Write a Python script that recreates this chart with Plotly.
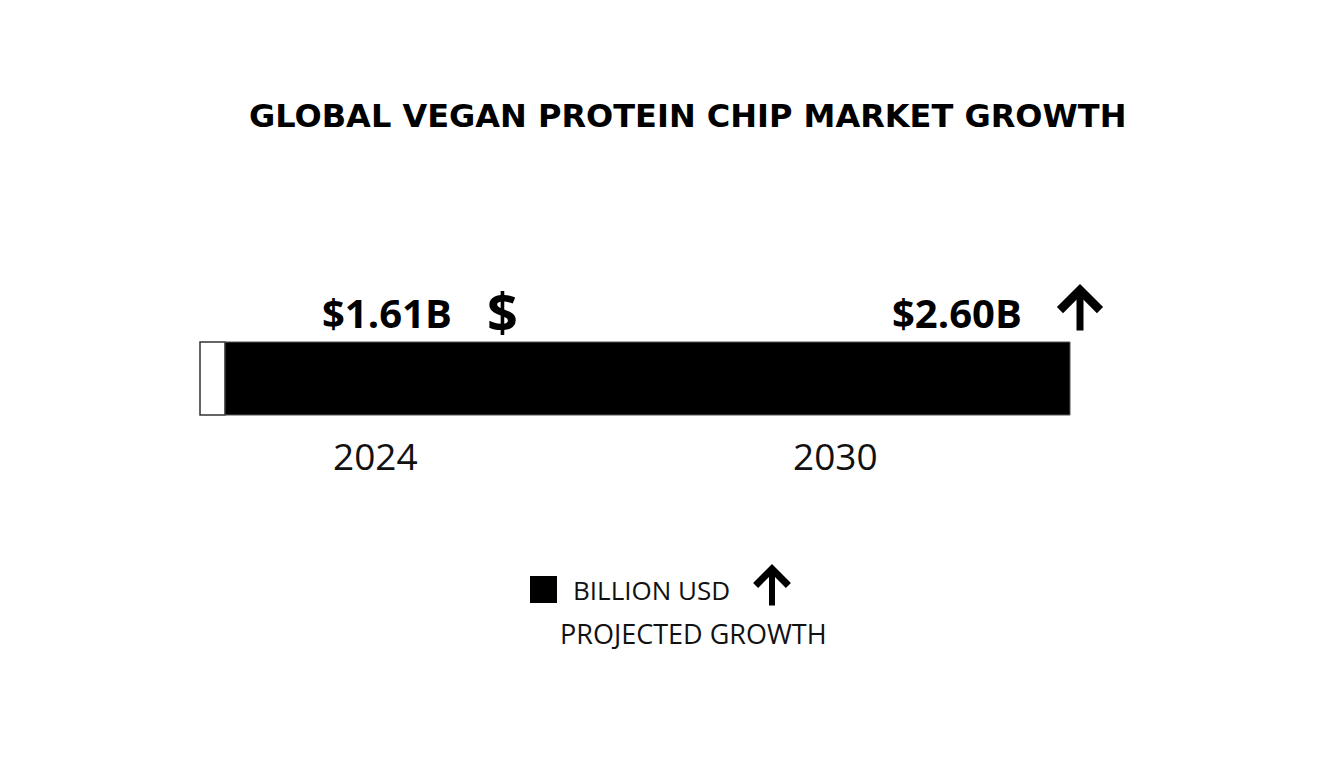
import plotly.graph_objects as go

# ---- data ----
years = [2024, 2030]
year_labels = ["2024", "2030"]
values_busd = [1.61, 2.60]
value_labels = ["$%.2fB" % v for v in values_busd]
title_text = "GLOBAL VEGAN PROTEIN CHIP MARKET GROWTH"
legend_labels = ["BILLION USD", "PROJECTED GROWTH"]

# ---- style / layout constants ----
W, H = 1344, 768
PX_PER_YEAR = 460 / 6.0
X0 = 2024 - 375 / PX_PER_YEAR
X1 = X0 + W / PX_PER_YEAR
BAR_START = 2024 - 150 / PX_PER_YEAR
BAR_END = 2024 + 695 / PX_PER_YEAR
CAP_START = 2024 - 175 / PX_PER_YEAR
FONT = "Open Sans"


def py(pixel):
    return 1 - pixel / H


fig = go.Figure()
# white end cap
fig.add_trace(go.Bar(
    orientation="h", y=[0], base=[CAP_START], x=[BAR_START - CAP_START], width=73,
    marker=dict(color="white", line=dict(color="#333333", width=1.5)),
    showlegend=False, hoverinfo="skip"))
# main black bar spanning the period
fig.add_trace(go.Bar(
    orientation="h", y=[0], base=[BAR_START], x=[BAR_END - BAR_START], width=73,
    marker=dict(color="black", line=dict(color="#555555", width=1)),
    showlegend=False, hoverinfo="skip"))

ann = []
ann.append(dict(text="<b>%s</b>" % title_text, x=687 / W, y=py(116), xref="paper", yref="paper",
                showarrow=False, font=dict(family="DejaVu Sans", size=32, color="black"),
                xanchor="center", yanchor="middle"))
label_shift = [12, 122]
for yr, lab in zip(years, year_labels):
    ann.append(dict(text=lab, x=yr, y=py(455), xref="x", yref="paper", showarrow=False,
                    font=dict(family=FONT, size=37, color="#111111"),
                    xanchor="center", yanchor="middle"))
for yr, lab, sh in zip(years, value_labels, label_shift):
    ann.append(dict(text="<b>%s</b>" % lab, x=yr, xshift=sh, y=py(312), xref="x", yref="paper",
                    showarrow=False, font=dict(family=FONT, size=40, color="black"),
                    xanchor="center", yanchor="middle"))
# dollar icon
ann.append(dict(text="<b>$</b>", x=years[0], xshift=127, y=py(311), xref="x", yref="paper",
                showarrow=False, font=dict(family=FONT, size=54, color="black"),
                xanchor="center", yanchor="middle"))
# growth arrow
ann.append(dict(text="", x=years[1], xshift=245, y=py(284), xref="x", yref="paper",
                showarrow=True, ax=0, ay=48, arrowhead=4, arrowwidth=7, arrowsize=1.1,
                arrowcolor="black"))
# legend
ann.append(dict(text=legend_labels[0], x=571 / W, y=py(590), xref="paper", yref="paper",
                showarrow=False, font=dict(family=FONT, size=26, color="#111111"),
                xanchor="left", yanchor="middle"))
ann.append(dict(text=legend_labels[1], x=558 / W, y=py(633), xref="paper", yref="paper",
                showarrow=False, font=dict(family=FONT, size=27, color="#111111"),
                xanchor="left", yanchor="middle"))
ann.append(dict(text="", x=772 / W, y=py(564), xref="paper", yref="paper",
                showarrow=True, ax=0, ay=43, arrowhead=4, arrowwidth=6, arrowsize=1.05,
                arrowcolor="black"))

fig.update_layout(
    width=W, height=H, margin=dict(l=0, r=0, t=0, b=0),
    paper_bgcolor="white", plot_bgcolor="white",
    xaxis=dict(range=[X0, X1], visible=False, fixedrange=True),
    yaxis=dict(range=[-(H - 378.5), 378.5], visible=False, fixedrange=True),
    barmode="overlay", annotations=ann, showlegend=False,
    shapes=[dict(type="rect", xref="paper", yref="paper",
                 x0=530 / W, x1=557 / W, y0=py(603), y1=py(576),
                 fillcolor="black", line=dict(width=0))],
)

fig.write_html("out.html")
